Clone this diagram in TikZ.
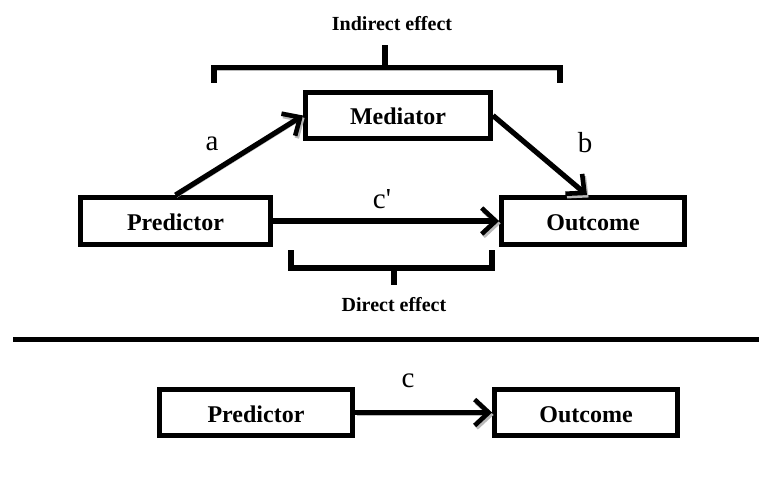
\documentclass[tikz,border=0pt]{standalone}
\usepackage{fontspec}
\setmainfont{Liberation Serif}
\newfontfamily\coeffont{Liberation Serif}
\usetikzlibrary{arrows.meta}
\begin{document}
\begin{tikzpicture}[x=1pt,y=-1pt,
  shade line/.style={preaction={draw=gray!55,transform canvas={xshift=1.6pt,yshift=-2.4pt}}},
  varbox/.style={draw,line width=5.4pt,fill=white,inner sep=0pt,
    text height=19pt,text depth=0pt,minimum height=46.5pt,
    font=\fontsize{24}{28}\selectfont\bfseries},
  path/.style={line width=5.2pt,shade line,
    -{Straight Barb[length=14pt,width=26pt,line width=4.6pt]}},
  coef/.style={font=\coeffont\fontsize{29}{32}\selectfont,inner sep=0pt},
  effect/.style={font=\fontsize{20}{24}\selectfont\bfseries,inner sep=0pt},
  bracket/.style={line width=5.4pt,line join=miter,line cap=rect,shade line}]
\useasboundingbox (0,0) rectangle (759,494);

% mediation model
\node[varbox,minimum width=184.5pt] (med)  at (398,115.5) {Mediator};
\node[varbox,minimum width=189.5pt] (pred) at (175.5,221) {Predictor};
\node[varbox,minimum width=182.5pt] (out)  at (593,221)   {Outcome};

\draw[path] (pred.north) -- (med.west);
\draw[path] (med.east) -- ([xshift=-6pt]out.north);
\draw[path] (pred.east) -- (out.west);

\node[coef] (la) at (212,144) {a};
\node[coef] (lb) at (585,143) {b};
\node[coef] (lcp) at (382,199) {c'};

% indirect effect bracket
\node[effect] (ind) at (392,24) {Indirect effect};
\coordinate (ib1) at (214,80);
\coordinate (ib2) at (560,80);
\coordinate (ibm) at (385,67.5);
\draw[bracket] (ib1) |- (ibm) -| (ib2);
\draw[bracket] (ibm) -- ++(0,-20);

% direct effect bracket
\node[effect] (dir) at (394,305) {Direct effect};
\coordinate (db1) at (291,253);
\coordinate (db2) at (492,253);
\coordinate (dbm) at (394,268);
\draw[bracket] (db1) |- (dbm) -| (db2);
\draw[bracket] (dbm) -- ++(0,14);

% separator
\coordinate (sepL) at (13,339);
\coordinate (sepR) at (759,339);
\draw[line width=5pt] (sepL) -- (sepR);

% total effect model
\node[varbox,minimum width=192.5pt] (pred2) at (256,412.5) {Predictor};
\node[varbox,minimum width=182.5pt] (out2)  at (586,412.5) {Outcome};
\draw[path] (pred2.east) -- (out2.west);
\node[coef] (lc) at (408,381) {c};
\end{tikzpicture}
\end{document}
